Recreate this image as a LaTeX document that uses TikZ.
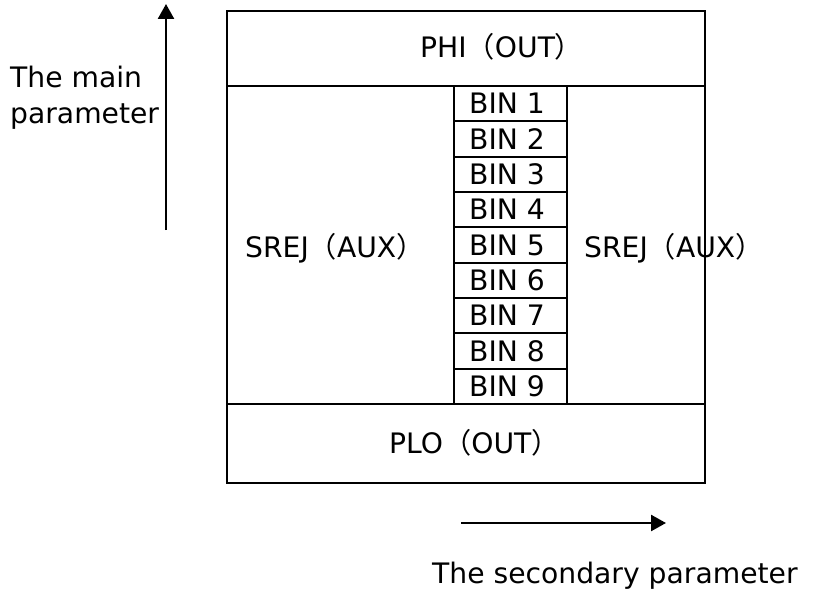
\documentclass[tikz,border=0pt]{standalone}
\usepackage{fontspec}
\setmainfont{DejaVu Sans}
\newfontfamily\cjk{Noto Sans CJK SC}
\usetikzlibrary{arrows.meta}
\newcommand{\lp}{{\cjk （}}
\newcommand{\rp}{{\cjk ）}}
\begin{document}
\begin{tikzpicture}[x=1pt,y=-1pt,
  txt/.style={inner sep=0pt,anchor=base west,font=\fontsize{28.2}{36}\selectfont},
  boxline/.style={line width=2.5pt},
  binline/.style={line width=2.1pt},
  axis/.style={line width=2.5pt,-{Triangle[length=15pt,width=16pt]}}]
\useasboundingbox (0,0) rectangle (835,594);
\fill[white] (0,0) rectangle (835,594);
% outer box and dividers
\draw[boxline] (227,11) rectangle (705,483);
\draw[boxline] (227,86) -- (705,86);
\draw[boxline] (227,404) -- (705,404);
% BIN column
\draw[binline] (454,86) -- (454,404);
\draw[binline] (567,86) -- (567,404);
\foreach \i in {1,...,8}{
  \draw[binline] (454,{86+\i*35.333}) -- (567,{86+\i*35.333});
}
\foreach \i in {1,...,9}{
  \node[txt] (bin\i) at (469,{86+(\i-0.5)*35.333+10}) {BIN \i};
}
% texts
\node[txt] (phi) at (420,58) {PHI\lp OUT\rp};
\node[txt] (plo) at (389,453) {PLO\lp OUT\rp};
\node[txt] (srejl) at (245,257) {SREJ\lp AUX\rp};
\node[txt] (srejr) at (584,257) {SREJ\lp AUX\rp};
\node[txt] (mainl1) at (10,87) {The main};
\node[txt] (mainl2) at (10,123) {parameter};
\node[txt] (sec) at (432,583) {The secondary parameter};
% axes
\coordinate (va) at (166,230);
\coordinate (vb) at (166,4);
\coordinate (ha) at (461,523);
\coordinate (hb) at (666,523);
\draw[axis] (va) -- (vb);
\draw[axis] (ha) -- (hb);
\end{tikzpicture}
\end{document}
